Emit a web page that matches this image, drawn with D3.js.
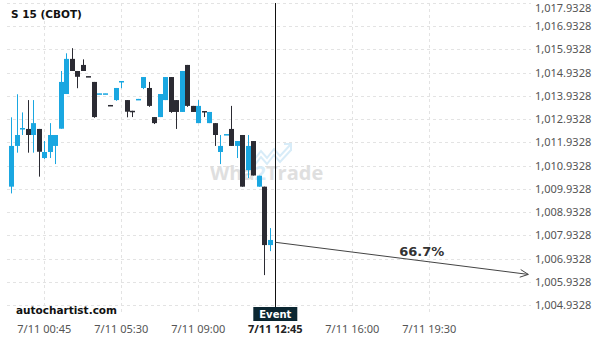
<!DOCTYPE html>
<html>
<head>
<meta charset="utf-8">
<script src="https://cdn.jsdelivr.net/npm/d3@7"></script>
<style>
  body { margin: 0; background: #fff; }
  svg { display: block; font-family: "DejaVu Sans", sans-serif; }
</style>
</head>
<body>
<div id="chart"></div>
<script>
// candle values (15 min bars, index 0..47)
var opens  = [1010.03, 1011.78, 1012.53, 1012.51, 1012.25, 1012.51, 1011.26, 1011.52, 1011.78, 1012.52,
              1014.01, 1015.52, 1015.00, 1015.26, 1014.78, 1014.53, 1014.03, 1014.03, 1013.54, 1013.75,
              1014.56, 1013.75, 1013.29, 1013.79, 1014.27, 1014.27, 1013.02, 1013.02, 1013.75, 1014.74,
              1013.75, 1013.24, 1015.26, 1013.50, 1012.76, 1013.28, 1012.76, 1012.76, 1011.52, 1012.28,
              1012.51, 1011.78, 1012.25, 1010.74, 1011.99, 1010.03, 1010.03, 1007.52];
var highs  = [1013.01, 1014.00, 1013.22, 1013.75, 1013.75, 1012.51, 1011.99, 1012.76, 1012.25, 1015.00,
              1015.76, 1015.98, 1015.00, 1015.50, 1014.78, 1014.53, 1014.04, 1014.04, 1013.54, 1014.27,
              1014.57, 1013.75, 1013.29, 1013.80, 1014.74, 1014.53, 1013.02, 1014.01, 1014.74, 1014.74,
              1013.75, 1015.00, 1015.26, 1013.50, 1013.75, 1013.28, 1013.24, 1012.76, 1012.25, 1012.29,
              1013.50, 1011.99, 1012.25, 1012.25, 1011.99, 1010.50, 1010.03, 1008.25];
var lows   = [1009.74, 1011.49, 1012.25, 1011.49, 1011.49, 1010.46, 1011.22, 1011.26, 1011.00, 1012.52,
              1014.01, 1015.00, 1014.26, 1015.00, 1014.77, 1012.99, 1014.03, 1014.03, 1013.53, 1013.72,
              1014.26, 1013.01, 1013.02, 1013.79, 1014.22, 1013.46, 1012.72, 1013.02, 1013.75, 1013.20,
              1012.51, 1013.24, 1013.46, 1013.24, 1012.76, 1013.02, 1012.76, 1011.78, 1011.00, 1012.28,
              1011.78, 1011.26, 1010.03, 1010.40, 1010.51, 1010.03, 1006.23, 1007.26];
var closes = [1011.78, 1012.25, 1012.55, 1012.25, 1012.76, 1011.53, 1011.52, 1012.25, 1012.25, 1014.53,
              1015.52, 1015.00, 1014.75, 1015.00, 1014.77, 1013.02, 1014.04, 1014.04, 1013.53, 1014.27,
              1014.57, 1013.25, 1013.28, 1013.80, 1014.74, 1013.50, 1012.76, 1014.01, 1014.74, 1013.24,
              1013.24, 1015.00, 1013.50, 1013.24, 1013.50, 1013.27, 1013.24, 1012.25, 1011.78, 1012.29,
              1011.78, 1011.99, 1010.03, 1011.78, 1010.51, 1010.50, 1007.52, 1007.74];

var priceTicks = [1004.9328, 1005.9328, 1006.9328, 1007.9328, 1008.9328, 1009.9328, 1010.9328,
                  1011.9328, 1012.9328, 1013.9328, 1014.9328, 1015.9328, 1016.9328, 1017.9328];
var timeTickIdx = [6, 20, 34, 48, 62, 76];
var timeTickLabels = ["7/11 00:45", "7/11 05:30", "7/11 09:00", "7/11 12:45", "7/11 16:00", "7/11 19:30"];

var eventIdx = 48;
var forecastIdx = [48, 94];
var forecastPrice = [1007.64, 1006.26];
var forecastLabel = "66.7%";

var W = 600, H = 340;
var up = "#1aa7e1", down = "#2b2b33";

var x = d3.scaleLinear().domain([0, 47]).range([11.3, 269.8]);
var y = d3.scaleLinear().domain([1004.9328, 1016.9328]).range([305.3, 26]);

var candles = opens.map(function(o, i) {
    return {i: i, o: o, h: highs[i], l: lows[i], c: closes[i]};
});

var svg = d3.select("#chart").append("svg")
    .attr("width", W)
    .attr("height", H);

// horizontal grid
svg.append("g").selectAll("line")
    .data(priceTicks)
    .enter().append("line")
    .attr("x1", 7).attr("x2", 531)
    .attr("y1", d => Math.round(y(d)) + 0.5)
    .attr("y2", d => Math.round(y(d)) + 0.5)
    .style("stroke", "#e3e3e3")
    .style("stroke-dasharray", "3,3");

// vertical grid
svg.append("g").selectAll("line")
    .data(timeTickIdx.filter(d => d != eventIdx))
    .enter().append("line")
    .attr("x1", d => Math.round(x(d)) + 0.5)
    .attr("x2", d => Math.round(x(d)) + 0.5)
    .attr("y1", 3).attr("y2", 312)
    .style("stroke", "#e3e3e3")
    .style("stroke-dasharray", "3,3");

// price labels
svg.append("g").selectAll("text")
    .data(priceTicks)
    .enter().append("text")
    .attr("x", 535)
    .attr("y", d => Math.max(y(d) + 4, 12))
    .attr("font-size", "11px")
    .attr("font-family", "'Noto Sans', sans-serif")
    .attr("fill", "#555")
    .text(d => d3.format(",.4f")(d));

// time labels
svg.append("g").selectAll("text")
    .data(timeTickIdx)
    .enter().append("text")
    .attr("x", d => x(d))
    .attr("y", 333)
    .attr("text-anchor", "middle")
    .attr("font-size", "11px")
    .attr("font-family", "'Noto Sans', sans-serif")
    .attr("font-weight", (d, i) => d == eventIdx ? "bold" : "normal")
    .attr("fill", (d, i) => d == eventIdx ? "#222" : "#555")
    .text((d, i) => timeTickLabels[i]);

// watermark
var wm = svg.append("g").attr("opacity", 0.9);
wm.append("polyline")
    .attr("points", "254,160 261,151 267,158 274,149 280,156 291,144")
    .style("fill", "none").style("stroke", "#d4ebf8").style("stroke-width", 2);
wm.append("polyline")
    .attr("points", "254,166 261,157 267,164 274,155 280,162 291,150")
    .style("fill", "none").style("stroke", "#d4ebf8").style("stroke-width", 2);
wm.append("polyline")
    .attr("points", "284,144 291,144 291,151")
    .style("fill", "none").style("stroke", "#d4ebf8").style("stroke-width", 2);
var wt = wm.append("text")
    .attr("x", 210).attr("y", 180)
    .attr("font-size", "20px")
    .attr("font-weight", "bold")
    .attr("font-family", "'Open Sans', sans-serif")
    .attr("fill", "#dcdcdc");
wt.append("tspan").text("Wha");
wt.append("tspan").attr("fill", "#d4ebf8").text("2");
wt.append("tspan").text("Trade");

// candles
var cg = svg.append("g");
cg.selectAll("line")
    .data(candles)
    .enter().append("line")
    .attr("x1", d => Math.round(x(d.i)) + 0.5)
    .attr("x2", d => Math.round(x(d.i)) + 0.5)
    .attr("y1", d => y(d.h))
    .attr("y2", d => y(d.l))
    .style("stroke", d => d.c >= d.o ? up : down);

cg.selectAll("rect")
    .data(candles)
    .enter().append("rect")
    .attr("x", d => Math.round(x(d.i)) - 2)
    .attr("width", 5)
    .attr("y", d => y(Math.max(d.o, d.c)))
    .attr("height", d => Math.max(1.5, Math.abs(y(d.o) - y(d.c))))
    .style("fill", d => d.c >= d.o ? up : down);

// event line and label
svg.append("line")
    .attr("x1", Math.round(x(eventIdx)) + 0.5)
    .attr("x2", Math.round(x(eventIdx)) + 0.5)
    .attr("y1", 3).attr("y2", 308)
    .style("stroke", "#111");

svg.append("rect")
    .attr("x", x(eventIdx) - 22).attr("y", 307)
    .attr("width", 44).attr("height", 14)
    .style("fill", "#0b2631");
svg.append("text")
    .attr("x", x(eventIdx)).attr("y", 318)
    .attr("text-anchor", "middle")
    .attr("font-size", "10px")
    .attr("font-weight", "bold")
    .attr("fill", "#fff")
    .text("Event");

// forecast arrow
var x0 = x(forecastIdx[0]), y0 = y(forecastPrice[0]);
var x1 = x(forecastIdx[1]), y1 = y(forecastPrice[1]);
svg.append("line")
    .attr("x1", x0).attr("y1", y0)
    .attr("x2", x1).attr("y2", y1)
    .style("stroke", "#444");
var ang = Math.atan2(y1 - y0, x1 - x0);
var head = [ang + 2.7, ang - 2.7].map(a => [x1 + 9 * Math.cos(a), y1 + 9 * Math.sin(a)]);
svg.append("polyline")
    .attr("points", [head[0], [x1, y1], head[1]].map(p => p.join(",")).join(" "))
    .style("fill", "none")
    .style("stroke", "#444");
svg.append("text")
    .attr("x", x((forecastIdx[0] + forecastIdx[1]) / 2) + 20)
    .attr("y", 256)
    .attr("text-anchor", "middle")
    .attr("font-size", "13px")
    .attr("font-weight", "bold")
    .attr("fill", "#333")
    .text(forecastLabel);

// titles
svg.append("text")
    .attr("x", 11).attr("y", 18)
    .attr("font-size", "10.5px")
    .attr("font-weight", "bold")
    .attr("fill", "#111")
    .text("S 15 (CBOT)");

svg.append("text")
    .attr("x", 16).attr("y", 314)
    .attr("font-size", "10.5px")
    .attr("font-weight", "bold")
    .attr("fill", "#111")
    .text("autochartist.com");
</script>
</body>
</html>
